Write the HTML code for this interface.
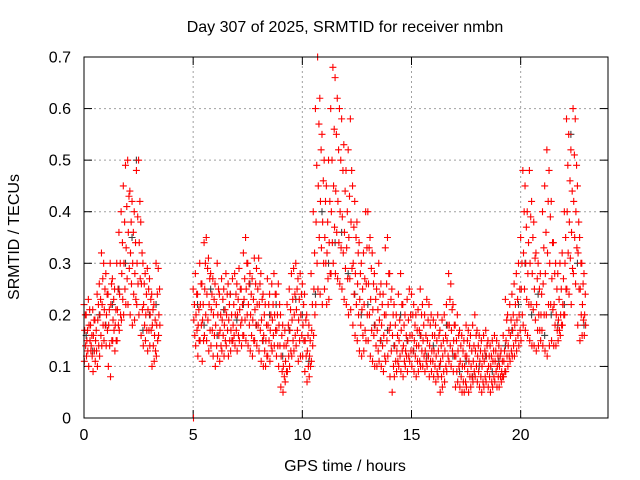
<!DOCTYPE html>
<html><head><meta charset="utf-8"><style>
body{margin:0;background:#fff;}
svg{display:block;font-family:"Liberation Sans",sans-serif;}
</style></head><body>
<svg id="chart" width="640" height="480" viewBox="0 0 640 480">
<text x="345" y="32" text-anchor="middle" font-size="16">Day 307 of 2025, SRMTID for receiver nmbn</text>
<text x="345" y="471" text-anchor="middle" font-size="16">GPS time / hours</text>
<text transform="translate(19,237) rotate(-90)" text-anchor="middle" font-size="16">SRMTID / TECUs</text>
<g id="grid"></g>
<g id="axes"></g>
<g id="gray"></g>
<g id="red"></g>
<rect x="84" y="57" width="524" height="361" fill="none" stroke="#000"/>
</svg>
<script>
const xTicks=[0,5,10,15,20];
const yTicks=[0,0.1,0.2,0.3,0.4,0.5,0.6,0.7];
const yTickLabels=["0","0.1","0.2","0.3","0.4","0.5","0.6","0.7"];
const redTimes=[0.0,0.1,0.2,0.3,0.4,0.5,0.6,0.7,0.8,0.9,1.0,1.1,1.2,1.3,1.4,1.5,1.6,1.7,1.8,1.9,2.0,2.1,2.2,2.3,2.4,2.5,2.6,2.7,2.8,2.9,3.0,3.1,3.2,3.3,3.4,
5.0,5.1,5.2,5.3,5.4,5.5,5.6,5.7,5.8,5.9,6.0,6.1,6.2,6.3,6.4,6.5,6.6,6.7,6.8,6.9,7.0,7.1,7.2,7.3,7.4,7.5,7.6,7.7,7.8,7.9,8.0,8.1,8.2,8.3,8.4,8.5,8.6,8.7,8.8,8.9,9.0,9.1,9.2,9.3,9.4,9.5,9.6,9.7,9.8,9.9,10.0,10.1,10.2,10.3,10.4,10.5,10.6,10.7,10.8,10.9,11.0,11.1,11.2,11.3,11.4,11.5,11.6,11.7,11.8,11.9,12.0,12.1,12.2,12.3,12.4,12.5,12.6,12.7,12.8,12.9,13.0,13.1,13.2,13.3,13.4,13.5,13.6,13.7,13.8,13.9,14.0,14.1,14.2,14.3,14.4,14.5,14.6,14.7,14.8,14.9,15.0,15.1,15.2,15.3,15.4,15.5,15.6,15.7,15.8,15.9,16.0,16.1,16.2,16.3,16.4,16.5,16.6,16.7,16.8,16.9,17.0,17.1,17.2,17.3,17.4,17.5,17.6,17.7,17.8,17.9,18.0,18.1,18.2,18.3,18.4,18.5,18.6,18.7,18.8,18.9,19.0,19.1,19.2,19.3,19.4,19.5,19.6,19.7,19.8,19.9,20.0,20.1,20.2,20.3,20.4,20.5,20.6,20.7,20.8,20.9,21.0,21.1,21.2,21.3,21.4,21.5,21.6,21.7,21.8,21.9,22.0,22.1,22.2,22.3,22.4,22.5,22.6,22.7,22.8,22.9];
const redHigh=[.22,.20,.23,.18,.21,.19,.24,.26,.32,.30,.28,.24,.30,.27,.25,.30,.36,.40,.45,.49,.50,.44,.42,.40,.48,.50,.38,.30,.28,.29,.27,.24,.22,.30,.29,
.25,.28,.24,.30,.26,.34,.35,.31,.28,.27,.26,.30,.24,.27,.25,.28,.26,.24,.27,.28,.26,.29,.25,.32,.35,.30,.28,.27,.31,.29,.31,.28,.24,.22,.27,.24,.26,.28,.24,.26,.20,.18,.17,.22,.25,.28,.29,.30,.27,.28,.26,.24,.20,.18,.28,.40,.60,.70,.62,.55,.50,.45,.50,.60,.68,.66,.62,.60,.58,.53,.48,.52,.58,.45,.42,.38,.34,.30,.32,.40,.40,.35,.32,.28,.25,.30,.26,.24,.33,.35,.28,.25,.22,.20,.24,.28,.22,.20,.23,.25,.24,.22,.20,.21,.25,.22,.20,.23,.22,.20,.19,.18,.20,.17,.19,.20,.22,.28,.26,.22,.18,.20,.17,.16,.15,.18,.17,.16,.18,.20,.17,.16,.15,.16,.17,.15,.14,.15,.16,.15,.14,.13,.16,.23,.20,.22,.24,.26,.28,.30,.35,.48,.45,.40,.48,.42,.38,.32,.30,.28,.40,.45,.52,.48,.42,.34,.30,.28,.30,.32,.40,.58,.55,.52,.60,.58,.45,.35,.30,.28];
const redUpper=[.20,.17,.21,.16,.19,.17,.22,.23,.27,.25,.24,.21,.26,.23,.21,.25,.30,.34,.38,.41,.43,.38,.36,.34,.39,.42,.32,.26,.24,.25,.23,.21,.19,.24,.25,
.22,.24,.21,.26,.22,.30,.29,.27,.24,.23,.22,.25,.20,.23,.21,.24,.22,.20,.22,.24,.23,.25,.22,.27,.30,.26,.24,.23,.26,.25,.26,.23,.20,.18,.22,.20,.22,.24,.20,.22,.16,.14,.14,.18,.21,.23,.24,.25,.23,.24,.22,.19,.16,.15,.22,.32,.49,.57,.52,.46,.42,.38,.42,.50,.56,.55,.52,.50,.48,.44,.40,.43,.48,.37,.35,.32,.28,.25,.27,.33,.33,.29,.26,.23,.21,.24,.22,.20,.26,.28,.23,.20,.18,.16,.19,.22,.18,.16,.19,.20,.20,.18,.17,.17,.20,.18,.16,.19,.18,.16,.16,.15,.16,.14,.15,.16,.18,.23,.21,.18,.15,.16,.14,.13,.12,.15,.14,.13,.14,.16,.14,.13,.12,.13,.14,.12,.12,.13,.13,.12,.12,.11,.13,.19,.17,.19,.20,.22,.23,.25,.30,.40,.37,.34,.39,.35,.31,.27,.25,.24,.33,.36,.42,.39,.34,.28,.25,.23,.25,.27,.35,.49,.46,.44,.51,.49,.38,.30,.26,.24];
const redMid=[.17,.15,.18,.14,.16,.15,.19,.20,.22,.21,.20,.18,.22,.19,.18,.21,.24,.28,.30,.33,.36,.32,.30,.28,.30,.34,.26,.22,.20,.21,.20,.18,.16,.18,.20,
.19,.20,.18,.22,.19,.25,.24,.22,.21,.20,.18,.20,.17,.19,.18,.20,.19,.17,.18,.20,.20,.21,.19,.23,.25,.22,.20,.19,.21,.22,.22,.19,.16,.15,.18,.17,.19,.20,.17,.18,.12,.10,.11,.15,.17,.19,.20,.21,.19,.20,.18,.15,.13,.12,.17,.25,.38,.45,.42,.38,.35,.32,.34,.40,.45,.44,.42,.40,.39,.36,.33,.35,.38,.30,.28,.26,.23,.21,.22,.26,.26,.23,.21,.18,.17,.19,.18,.16,.20,.22,.18,.16,.14,.13,.15,.17,.14,.13,.15,.16,.16,.15,.14,.14,.16,.15,.13,.15,.14,.13,.13,.12,.13,.11,.12,.13,.15,.18,.17,.15,.12,.13,.11,.10,.10,.12,.11,.10,.11,.13,.12,.11,.10,.11,.12,.10,.10,.11,.11,.10,.10,.09,.11,.15,.14,.16,.17,.18,.19,.20,.25,.32,.30,.28,.30,.28,.25,.22,.20,.20,.26,.28,.32,.30,.27,.22,.20,.19,.20,.22,.30,.40,.38,.36,.42,.40,.32,.25,.22,.20];
const redLower=[.14,.13,.15,.12,.13,.13,.14,.16,.18,.18,.17,.14,.15,.17,.15,.18,.20,.23,.25,.27,.29,.26,.24,.23,.26,.27,.21,.18,.17,.17,.17,.14,.13,.15,.18,
.16,.17,.15,.18,.15,.20,.19,.17,.17,.16,.14,.16,.14,.16,.15,.17,.15,.15,.16,.17,.16,.18,.16,.19,.20,.18,.16,.15,.18,.18,.17,.15,.13,.12,.15,.14,.16,.17,.14,.14,.09,.08,.09,.12,.13,.15,.16,.17,.15,.16,.15,.12,.10,.10,.14,.20,.30,.35,.33,.30,.30,.27,.28,.34,.37,.36,.34,.33,.32,.29,.27,.27,.29,.24,.22,.20,.18,.16,.17,.20,.20,.17,.16,.14,.13,.15,.14,.12,.15,.17,.13,.10,.11,.11,.12,.13,.11,.12,.12,.13,.13,.12,.11,.11,.13,.12,.11,.12,.11,.11,.10,.09,.10,.08,.09,.10,.12,.14,.13,.12,.09,.10,.08,.07,.07,.09,.08,.08,.09,.10,.09,.08,.07,.08,.09,.08,.07,.08,.09,.08,.08,.08,.09,.12,.12,.13,.14,.15,.16,.17,.20,.25,.23,.22,.22,.21,.19,.17,.17,.17,.20,.20,.22,.22,.21,.18,.17,.17,.18,.20,.25,.32,.31,.29,.35,.33,.25,.20,.19,.18];
const redLow=[.11,.12,.10,.13,.09,.11,.10,.12,.14,.15,.14,.10,.08,.15,.13,.15,.17,.19,.20,.22,.22,.20,.18,.19,.22,.20,.16,.14,.15,.13,.14,.10,.11,.12,.16,
.00,.14,.12,.15,.11,.16,.15,.13,.14,.12,.10,.12,.11,.13,.12,.14,.12,.13,.15,.14,.13,.15,.14,.16,.15,.14,.13,.12,.15,.14,.13,.11,.10,.10,.12,.11,.13,.14,.12,.10,.06,.05,.07,.09,.10,.12,.13,.14,.11,.12,.12,.09,.07,.08,.11,.16,.22,.25,.24,.22,.25,.22,.23,.28,.30,.28,.27,.26,.25,.23,.22,.20,.21,.18,.16,.15,.13,.12,.13,.15,.15,.12,.11,.10,.10,.11,.10,.09,.11,.12,.08,.05,.08,.09,.10,.09,.08,.10,.09,.11,.10,.09,.08,.09,.10,.10,.09,.10,.08,.09,.08,.07,.08,.05,.06,.07,.09,.11,.10,.09,.06,.07,.06,.05,.05,.06,.05,.06,.07,.08,.07,.06,.05,.06,.07,.06,.05,.06,.07,.06,.06,.07,.08,.09,.10,.11,.12,.12,.13,.14,.15,.18,.17,.16,.15,.14,.14,.13,.14,.15,.14,.13,.12,.14,.15,.14,.14,.15,.16,.18,.20,.25,.24,.22,.28,.26,.18,.15,.16,.16];
const grayTimes=[0.1,0.4,0.7,1.0,1.3,1.6,1.9,2.2,2.4,2.7,3.0,3.3,5.2,5.5,5.8,6.1,6.4,6.7,7.0,7.3,7.6,7.9,8.2,8.5,8.8,9.1,9.4,9.7,10.0,10.3,10.6,10.9,11.2,11.5,11.8,12.1,12.4,12.7,13.0,13.3,13.6,13.9,14.2,14.5,14.8,15.1,15.4,15.7,16.0,16.3,16.6,16.9,17.2,17.5,17.8,18.1,18.4,18.7,19.0,19.3,19.6,19.9,20.2,20.5,20.8,21.1,21.4,21.7,22.0,22.3,22.6,22.9];
const grayValues=[.16,.13,.20,.18,.22,.25,.30,.35,.50,.17,.20,.22,.22,.18,.25,.16,.21,.24,.19,.22,.26,.18,.15,.20,.22,.12,.17,.23,.20,.11,.24,.40,.30,.34,.36,.28,.24,.20,.22,.18,.15,.17,.14,.20,.15,.13,.16,.12,.14,.10,.18,.12,.09,.11,.08,.10,.12,.09,.11,.14,.17,.22,.30,.20,.24,.16,.20,.18,.22,.55,.30,.18];

const X0=84,X1=608,Y0=418,Y1=57,XMAX=24,YMAX=0.7;
const xs=t=>X0+(X1-X0)*t/XMAX;
const ys=v=>Y0-(Y0-Y1)*v/YMAX;
const NS='http://www.w3.org/2000/svg';
function mk(tag,attrs,parent){const e=document.createElementNS(NS,tag);for(const k in attrs)e.setAttribute(k,attrs[k]);parent.appendChild(e);return e;}
const grid=document.getElementById('grid'),axes=document.getElementById('axes');
yTicks.forEach((v,i)=>{
  const y=ys(v);
  if(i>0&&i<yTicks.length-1){const g=mk('line',{x1:X0,x2:X1,y1:y,y2:y,stroke:'#a0a0a0','stroke-dasharray':'2,3'},grid);
  
  }
  mk('line',{x1:X0,x2:X0+8,y1:y,y2:y,stroke:'#000'},axes);
  mk('line',{x1:X1,x2:X1-8,y1:y,y2:y,stroke:'#000'},axes);
  const t=mk('text',{x:X0-13,y:y+5.5,'text-anchor':'end','font-size':'16'},axes);
  t.textContent=yTickLabels[i];
  
  
});
xTicks.forEach(v=>{
  const x=xs(v);
  if(v>0){const g=mk('line',{x1:x,x2:x,y1:Y0,y2:Y1,stroke:'#a0a0a0','stroke-dasharray':'2,3'},grid);
  
  }
  mk('line',{x1:x,x2:x,y1:Y0,y2:Y0-8,stroke:'#000'},axes);
  mk('line',{x1:x,x2:x,y1:Y1,y2:Y1+8,stroke:'#000'},axes);
  const t=mk('text',{x:x,y:Y0+22,'text-anchor':'middle','font-size':'16'},axes);
  t.textContent=String(v);
  
  
});
function plus(parent,t,v,color,name){
  const x=xs(t),y=ys(v);
  const p=mk('path',{d:`M${x-3.5},${y}h7M${x},${y-3.5}v7`,stroke:color,'stroke-width':'1.1',fill:'none'},parent);
  
  
}
const gray=document.getElementById('gray'),red=document.getElementById('red');
grayTimes.forEach((t,i)=>{plus(gray,t,grayValues[i],'#404040','gray-point');});
redTimes.forEach((t,i)=>{
  plus(red,t,redHigh[i],'#ff0000','red-point');
  plus(red,t+0.06,redUpper[i],'#ff0000','red-point');
  plus(red,t+0.03,redMid[i],'#ff0000','red-point');
  plus(red,t+0.075,redLower[i],'#ff0000','red-point');
  plus(red,t+0.015,redLow[i],'#ff0000','red-point');
});
</script>
</body></html>
